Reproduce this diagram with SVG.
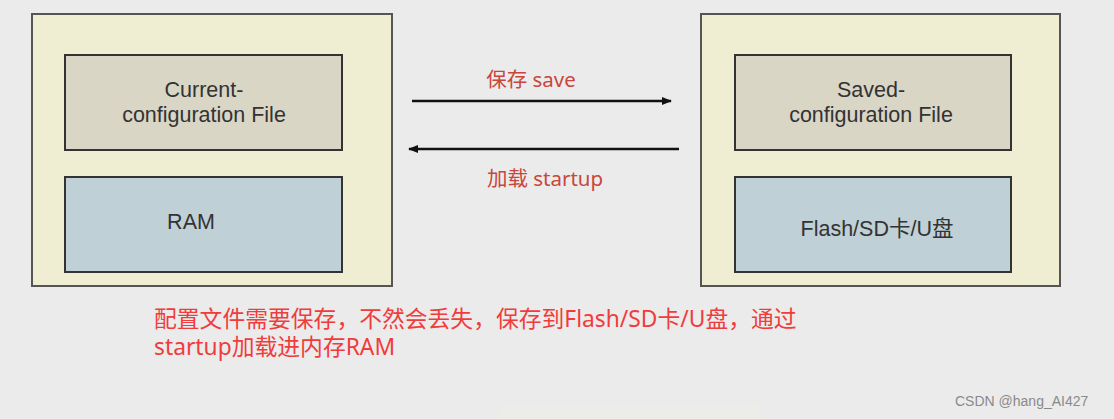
<svg xmlns="http://www.w3.org/2000/svg" width="1114" height="419" viewBox="0 0 1114 419">
<defs>
<marker id="ah" viewBox="0 0 10 10" refX="9" refY="5" markerWidth="4" markerHeight="4" orient="auto-start-reverse"><path d="M0,1 L10,5 L0,9 z" fill="#111"/></marker>
<style>
.outer{fill:#efedd2;stroke:#555;stroke-width:2}
.cfg{fill:#d9d6c6;stroke:#333;stroke-width:2}
.mem{fill:#bfd0d6;stroke:#333;stroke-width:2}
.lbl{font-family:"Liberation Sans","Noto Sans CJK SC",sans-serif;font-size:21.5px;fill:#333;text-anchor:middle}
.red{font-family:"Noto Sans","Liberation Sans","Noto Sans CJK SC",sans-serif}
.conn{stroke:#111;stroke-width:2.5;fill:none}
</style>
</defs>
<rect width="1114" height="419" fill="#ebebeb"/>
<rect x="500" y="406" width="260" height="13" fill="#ecede8"/>
<g id="left">
<rect class="outer" x="32" y="14" width="360" height="272"/>
<g id="current-config">
<rect class="cfg" x="65" y="55" width="277" height="95"/>
<text class="lbl" x="204" y="97">Current-</text>
<text class="lbl" x="204" y="122">configuration File</text>
</g>
<g id="ram">
<rect class="mem" x="65" y="177" width="277" height="95"/>
<text class="lbl" x="191" y="229">RAM</text>
</g>
</g>
<g id="right">
<rect class="outer" x="701" y="14" width="359" height="272"/>
<g id="saved-config">
<rect class="cfg" x="735" y="55" width="276" height="95"/>
<text class="lbl" x="871" y="97">Saved-</text>
<text class="lbl" x="871" y="122">configuration File</text>
</g>
<g id="flash">
<rect class="mem" x="735" y="177" width="276" height="95"/>
<text class="lbl" x="877" y="236">Flash/SD卡/U盘</text>
</g>
</g>
<g id="connectors">
<line class="conn" x1="412" y1="101" x2="671" y2="101" marker-end="url(#ah)"/>
<line class="conn" x1="409" y1="149" x2="679" y2="149" marker-start="url(#ah)"/>
<text class="red" x="531" y="87" font-size="20.5" fill="#c9463c" text-anchor="middle">保存 save</text>
<text class="red" x="545" y="186" font-size="20.5" fill="#c9463c" text-anchor="middle">加载 startup</text>
</g>
<text class="red" x="154" y="327" font-size="22.8" fill="#f03c3c">配置文件需要保存，不然会丢失，保存到Flash/SD卡/U盘，通过</text>
<text class="red" x="154" y="355" font-size="22.8" fill="#f03c3c">startup加载进内存RAM</text>
<text x="955" y="406" font-family="Liberation Sans,Arial,sans-serif" font-size="14" fill="#8a8a8a">CSDN @hang_AI427</text>
</svg>
